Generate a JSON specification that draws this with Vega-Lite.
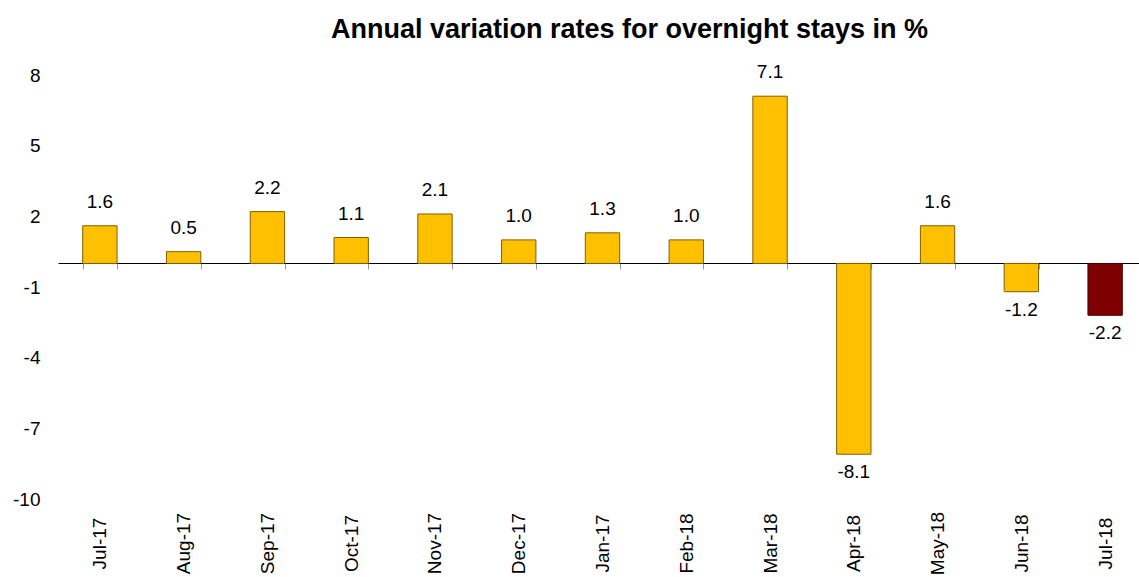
{
  "$schema": "https://vega.github.io/schema/vega-lite/v6.json",
  "width": 1089,
  "height": 424,
  "autosize": {"type": "none"},
  "padding": {"left": 58, "top": 75, "right": 0, "bottom": 78},
  "background": "white",
  "title": {
    "text": "Annual variation rates for overnight stays in %",
    "font": "Liberation Sans",
    "fontSize": 27,
    "fontWeight": "bold",
    "color": "black",
    "anchor": "middle",
    "dx": 27,
    "offset": 19
  },
  "config": {
    "view": {"stroke": null},
    "text": {"font": "Liberation Sans"},
    "locale": {
      "number": {
        "decimal": ".",
        "thousands": ",",
        "grouping": [3],
        "currency": ["$", ""],
        "minus": "-"
      }
    }
  },
  "data": {
    "values": [
      {"month": "Jul-17", "value": 1.6},
      {"month": "Aug-17", "value": 0.5},
      {"month": "Sep-17", "value": 2.2},
      {"month": "Oct-17", "value": 1.1},
      {"month": "Nov-17", "value": 2.1},
      {"month": "Dec-17", "value": 1.0},
      {"month": "Jan-17", "value": 1.3},
      {"month": "Feb-18", "value": 1.0},
      {"month": "Mar-18", "value": 7.1},
      {"month": "Apr-18", "value": -8.1},
      {"month": "May-18", "value": 1.6},
      {"month": "Jun-18", "value": -1.2},
      {"month": "Jul-18", "value": -2.2}
    ]
  },
  "encoding": {
    "x": {
      "field": "month",
      "type": "nominal",
      "sort": null,
      "scale": {"paddingInner": 0.59, "paddingOuter": 0.295},
      "axis": {
        "title": null,
        "orient": "bottom",
        "offset": -236,
        "domain": true,
        "domainColor": "black",
        "domainWidth": 1,
        "ticks": true,
        "tickColor": "#999999",
        "tickSize": 6,
        "tickBand": "extent",
        "labelAngle": -90,
        "labelAlign": "center",
        "labelBaseline": "middle",
        "labelPadding": 274,
        "labelFont": "Liberation Sans",
        "labelFontSize": 19,
        "labelColor": "black"
      }
    },
    "y": {
      "field": "value",
      "type": "quantitative",
      "scale": {"domain": [-10, 8], "nice": false, "zero": false},
      "axis": {
        "title": null,
        "values": [8, 5, 2, -1, -4, -7, -10],
        "grid": false,
        "domain": false,
        "ticks": false,
        "labelPadding": 18,
        "labelFont": "Liberation Sans",
        "labelFontSize": 19,
        "labelColor": "black"
      }
    }
  },
  "layer": [
    {
      "mark": {"type": "bar", "strokeWidth": 1},
      "encoding": {
        "color": {
          "condition": {"test": "datum.month === 'Jul-18'", "value": "#7F0000"},
          "value": "#FFC000"
        },
        "stroke": {
          "condition": {"test": "datum.month === 'Jul-18'", "value": "#4A0000"},
          "value": "#7F6000"
        }
      }
    },
    {
      "transform": [{"filter": "datum.value >= 0"}],
      "mark": {"type": "text", "baseline": "middle", "dy": -24, "fontSize": 19, "color": "black"},
      "encoding": {"text": {"field": "value", "type": "quantitative", "format": ".1f"}}
    },
    {
      "transform": [{"filter": "datum.value < 0"}],
      "mark": {"type": "text", "baseline": "middle", "dy": 18, "fontSize": 19, "color": "black"},
      "encoding": {"text": {"field": "value", "type": "quantitative", "format": ".1f"}}
    }
  ]
}
